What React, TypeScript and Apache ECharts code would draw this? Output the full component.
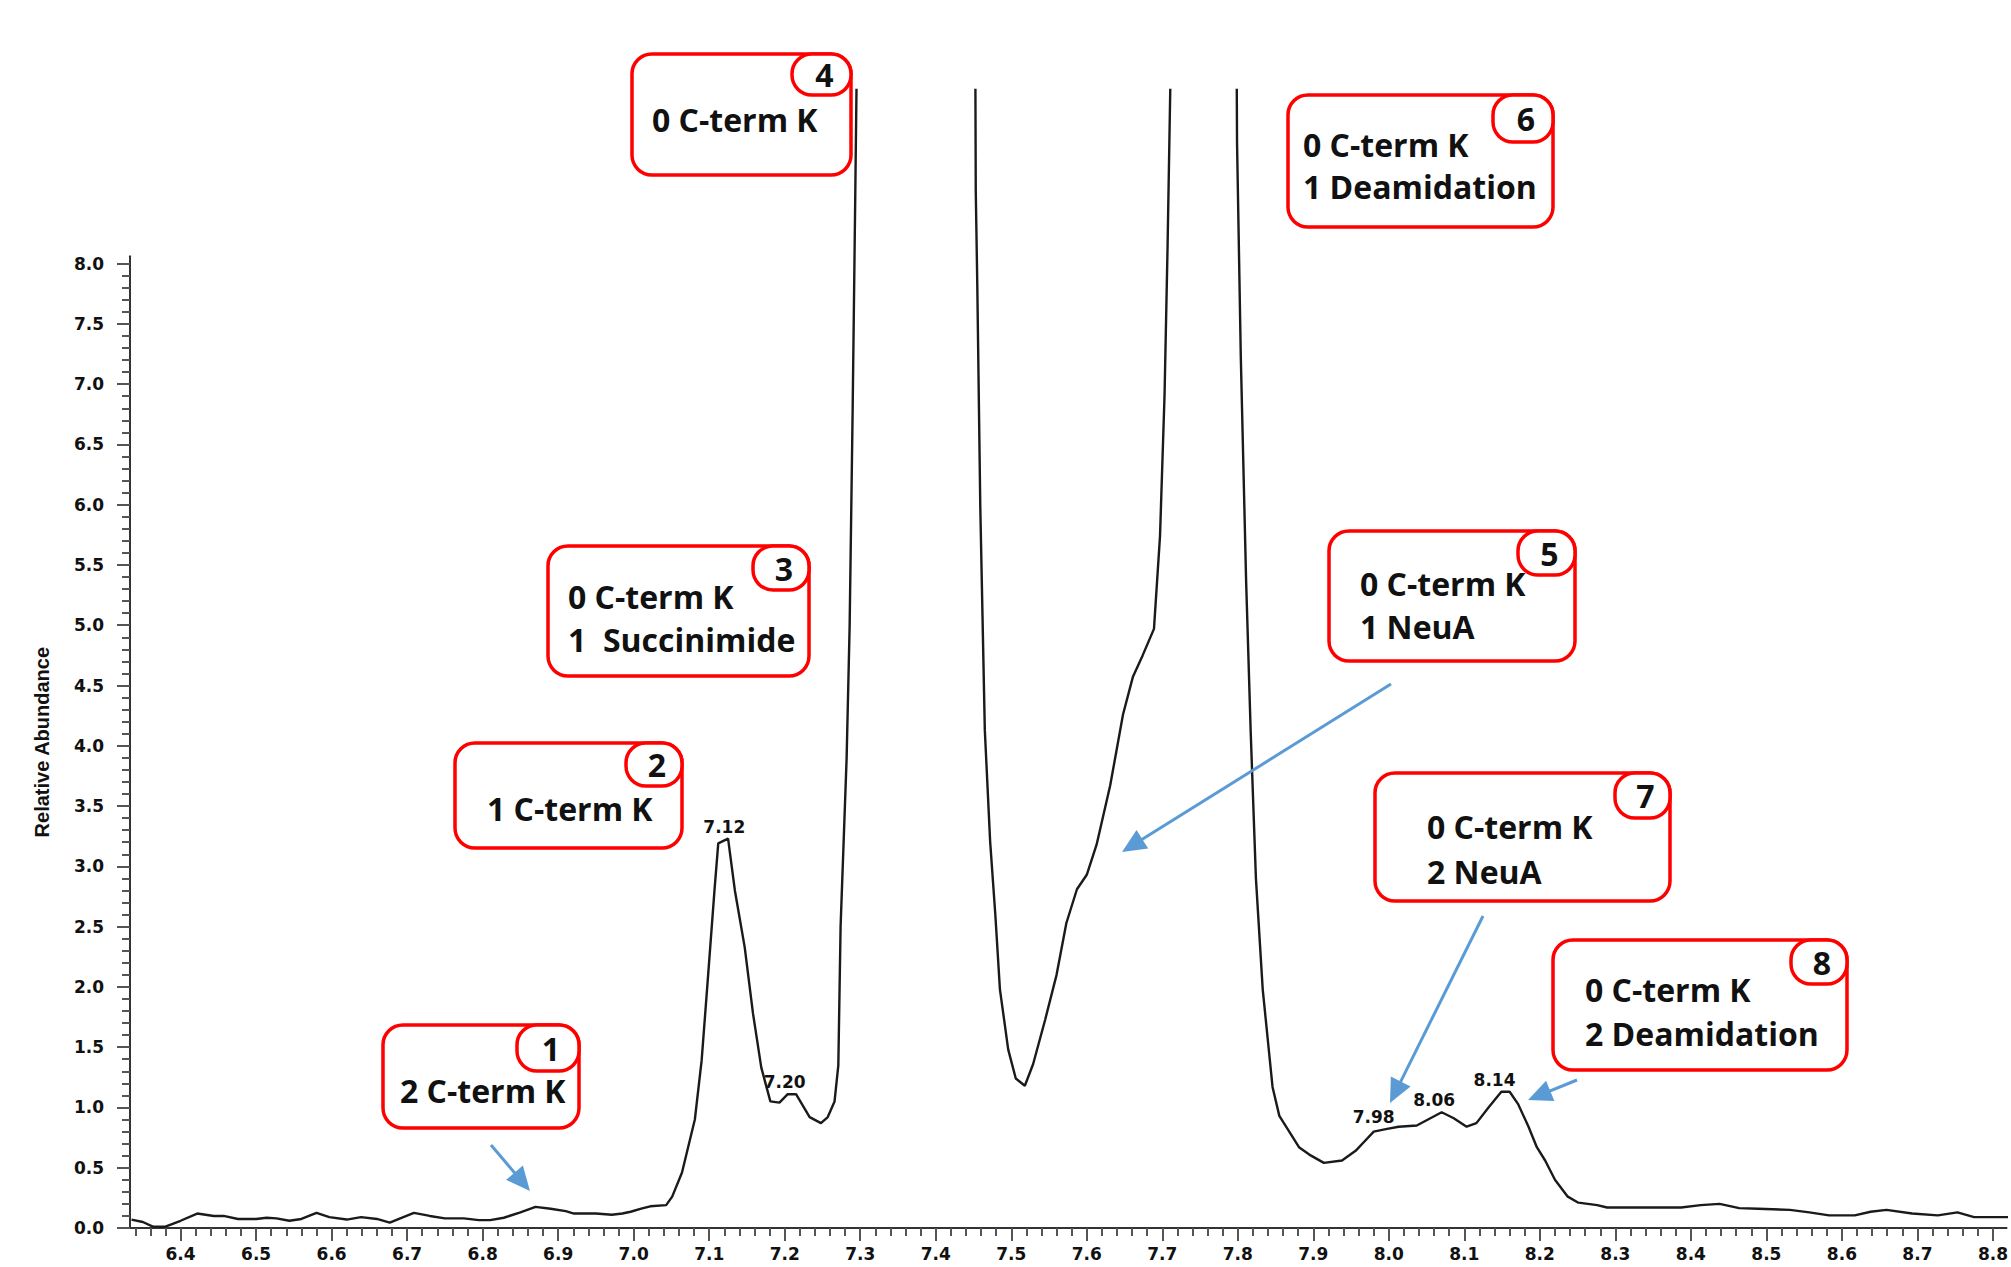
import React, { useEffect, useRef } from "react";
import * as echarts from "echarts";

// ---------- data ----------
const retentionTime = [
  6.335, 6.35, 6.364, 6.379, 6.4, 6.422, 6.444, 6.457, 6.476, 6.5, 6.514, 6.527, 6.544, 6.56, 6.58, 6.597,
  6.62, 6.639, 6.66, 6.677, 6.695, 6.709, 6.73, 6.75, 6.775, 6.795, 6.81, 6.828, 6.85, 6.87, 6.89, 6.91,
  6.921, 6.95, 6.971, 6.985, 6.996, 7.01, 7.022, 7.043, 7.051, 7.064, 7.081, 7.09, 7.098, 7.107, 7.112,
  7.125, 7.134, 7.147, 7.158, 7.169, 7.181, 7.193, 7.204, 7.215, 7.233, 7.248, 7.257, 7.266, 7.271, 7.274,
  7.278, 7.282, 7.286, 7.29, 7.2935, 7.297, 7.3, 7.37, 7.449, 7.453, 7.455, 7.459, 7.465, 7.472, 7.479,
  7.485, 7.496, 7.506, 7.518, 7.529, 7.545, 7.56, 7.573, 7.587, 7.6, 7.613, 7.631, 7.648, 7.661, 7.674,
  7.689, 7.697, 7.703, 7.707, 7.711, 7.716, 7.76, 7.795, 7.799, 7.804, 7.811, 7.817, 7.824, 7.833, 7.846,
  7.855, 7.87, 7.881, 7.897, 7.914, 7.938, 7.956, 7.968, 7.98, 7.996, 8.013, 8.037, 8.055, 8.07, 8.086,
  8.103, 8.116, 8.132, 8.149, 8.16, 8.171, 8.185, 8.196, 8.207, 8.22, 8.237, 8.251, 8.276, 8.289, 8.336,
  8.387, 8.413, 8.438, 8.464, 8.489, 8.531, 8.557, 8.583, 8.617, 8.638, 8.659, 8.693, 8.727, 8.753, 8.775,
  8.821,
];

const relativeAbundance = [
  0.07, 0.05, 0.01, 0.01, 0.06, 0.12, 0.1, 0.1, 0.075, 0.075, 0.085, 0.08, 0.06, 0.075, 0.125, 0.09,
  0.07, 0.09, 0.075, 0.045, 0.09, 0.125, 0.1, 0.08, 0.08, 0.065, 0.065, 0.085, 0.13, 0.175, 0.16, 0.14,
  0.12, 0.12, 0.11, 0.12, 0.135, 0.16, 0.18, 0.19, 0.26, 0.46, 0.9, 1.39, 2.05, 2.8, 3.19,
  3.23, 2.8, 2.33, 1.78, 1.33, 1.05, 1.04, 1.11, 1.11, 0.92, 0.87, 0.92, 1.05, 1.35, 2.5,
  3.2, 3.9, 5.0, 6.8, 8.6, 10.5, 16, 32, 16, 8.6, 7.83, 5.98, 4.13, 3.21, 2.59,
  1.98, 1.48, 1.24, 1.18, 1.36, 1.73, 2.1, 2.53, 2.81, 2.93, 3.18, 3.67, 4.26, 4.57, 4.75,
  4.97, 5.74, 6.91, 8.14, 9.6, 14, 35, 14, 9.0, 7.22, 5.37, 4.13, 2.9, 1.98, 1.17,
  0.93, 0.78, 0.67, 0.6, 0.54, 0.56, 0.64, 0.72, 0.8, 0.82, 0.84, 0.85, 0.91, 0.96, 0.91,
  0.84, 0.87, 1.0, 1.13, 1.13, 1.03, 0.84, 0.67, 0.56, 0.4, 0.26, 0.21, 0.19, 0.17, 0.17,
  0.17, 0.19, 0.2, 0.165, 0.16, 0.15, 0.13, 0.105, 0.105, 0.135, 0.15, 0.12, 0.105, 0.13, 0.09,
  0.09,
];

const peakLabels = ["7.12", "7.20", "7.98", "8.06", "8.14"];

const xTickLabels = [
  "6.4", "6.5", "6.6", "6.7", "6.8", "6.9", "7.0", "7.1", "7.2", "7.3", "7.4", "7.5", "7.6",
  "7.7", "7.8", "7.9", "8.0", "8.1", "8.2", "8.3", "8.4", "8.5", "8.6", "8.7", "8.8",
];
const yTickLabels = [
  "0.0", "0.5", "1.0", "1.5", "2.0", "2.5", "3.0", "3.5", "4.0", "4.5", "5.0", "5.5", "6.0",
  "6.5", "7.0", "7.5", "8.0",
];

const annotationNumbers = ["1", "2", "3", "4", "5", "6", "7", "8"];
const annotationTexts = [
  ["2 C-term K"],
  ["1 C-term K"],
  ["0 C-term K", "1  Succinimide"],
  ["0 C-term K"],
  ["0 C-term K", "1 NeuA"],
  ["0 C-term K", "1 Deamidation"],
  ["0 C-term K", "2 NeuA"],
  ["0 C-term K", "2 Deamidation"],
];

// ---------- layout (pixels) ----------
const W = 2011;
const H = 1267;
const X_MIN = 6.333;
const X_MAX = 8.818;
const Y_VIEW_MAX = 9.44;
const Y_AXIS_TOP = 8.06;
const GRID_LEFT = 130;
const GRID_TOP = 90;
const GRID_BOTTOM = 39;

const boxLayout = [
  { x: 383, y: 1025, w: 196, h: 103, bw: 62, bh: 46, tx: 400, ty: [1090] },
  { x: 455, y: 743, w: 227, h: 105, bw: 56, bh: 43, tx: 487, ty: [808] },
  { x: 548, y: 546, w: 261, h: 130, bw: 56, bh: 44, tx: 568, ty: [596, 639] },
  { x: 632, y: 54, w: 219, h: 121, bw: 59, bh: 41, tx: 652, ty: [119] },
  { x: 1329, y: 531, w: 246, h: 130, bw: 57, bh: 44, tx: 1360, ty: [583, 626] },
  { x: 1288, y: 95, w: 265, h: 132, bw: 60, bh: 47, tx: 1303, ty: [144, 186] },
  { x: 1375, y: 773, w: 295, h: 128, bw: 55, bh: 45, tx: 1427, ty: [826, 871] },
  { x: 1553, y: 940, w: 294, h: 130, bw: 56, bh: 44, tx: 1585, ty: [989, 1033] },
];

const arrowLayout = [
  [491, 1145, 530, 1191],
  [1391, 684, 1122, 852],
  [1483, 916, 1390, 1103],
  [1577, 1080, 1528, 1100],
];

const RED = "#ff0000";
const BLUE = "#5b9bd5";
const BOX_FONT = 'bold 32px "Open Sans", "Noto Sans", sans-serif';
const AXIS_FONT_FAMILY = "DejaVu Sans";

function minorBetween(majors: number[], step: number, from: number, to: number) {
  const out: number[] = [];
  const n = Math.round((to - from) / step);
  for (let i = 0; i <= n; i++) {
    const v = +(from + i * step).toFixed(4);
    if (!majors.some((m) => Math.abs(m - v) < step / 4)) out.push(v);
  }
  return out;
}

function arrowElements(a: number[]) {
  const [x1, y1, x2, y2] = a;
  const dx = x2 - x1;
  const dy = y2 - y1;
  const len = Math.sqrt(dx * dx + dy * dy);
  const ux = dx / len;
  const uy = dy / len;
  const nx = -uy;
  const ny = ux;
  const L = 24;
  const HW = 11;
  const bx = x2 - ux * L;
  const by = y2 - uy * L;
  return [
    {
      type: "line",
      z: 100,
      shape: { x1, y1, x2: bx + ux * 2, y2: by + uy * 2 },
      style: { stroke: BLUE, lineWidth: 3 },
    },
    {
      type: "polygon",
      z: 100,
      shape: {
        points: [
          [x2, y2],
          [bx + nx * HW, by + ny * HW],
          [bx - nx * HW, by - ny * HW],
        ],
      },
      style: { fill: BLUE },
    },
  ];
}

function boxElements(i: number) {
  const b = boxLayout[i];
  const els: any[] = [
    {
      type: "rect",
      z: 100,
      shape: { x: b.x, y: b.y, width: b.w, height: b.h, r: 20 },
      style: { fill: "#ffffff", stroke: RED, lineWidth: 3.5 },
    },
    {
      type: "rect",
      z: 101,
      shape: { x: b.x + b.w - b.bw, y: b.y, width: b.bw, height: b.bh, r: 20 },
      style: { fill: "#ffffff", stroke: RED, lineWidth: 3.5 },
    },
    {
      type: "text",
      z: 102,
      x: b.x + b.w - b.bw / 2 + 3,
      y: b.y + b.bh / 2,
      style: {
        text: annotationNumbers[i],
        font: BOX_FONT,
        fill: "#111111",
        textAlign: "center",
        verticalAlign: "middle",
        textVerticalAlign: "middle",
      },
    },
  ];
  annotationTexts[i].forEach((line, k) => {
    els.push({
      type: "text",
      z: 102,
      x: b.tx,
      y: b.ty[k],
      style: {
        text: line,
        font: BOX_FONT,
        fill: "#111111",
        textAlign: "left",
        verticalAlign: "middle",
        textVerticalAlign: "middle",
      },
    });
  });
  return els;
}

export default function App() {
  const ref = useRef<HTMLDivElement>(null);

  useEffect(() => {
    if (!ref.current) return;
    const chart = echarts.init(ref.current, undefined, { renderer: "svg" });

    const xMajor = xTickLabels.map((s) => parseFloat(s));
    const yMajor = yTickLabels.map((s) => parseFloat(s));
    const xMinor = minorBetween(xMajor, 0.02, 6.34, 8.8);
    const yMinor = minorBetween(yMajor, 0.1, 0, 8.0);

    const axisY0 = H - GRID_BOTTOM;
    const pxPerUnit = (axisY0 - GRID_TOP) / Y_VIEW_MAX;
    const grid1Top = axisY0 - Y_AXIS_TOP * pxPerUnit;

    const seriesData = retentionTime.map((t, i) => [t, relativeAbundance[i]]);

    const peakMarks = peakLabels.map((lbl) => {
      const rt = parseFloat(lbl);
      let best = 0;
      retentionTime.forEach((t, i) => {
        if (Math.abs(t - rt) <= 0.02 && relativeAbundance[i] > best) best = relativeAbundance[i];
      });
      return { name: lbl, coord: [rt, best] };
    });

    const labelStyle = {
      fontFamily: AXIS_FONT_FAMILY,
      fontWeight: "bold" as const,
      fontSize: 17,
      color: "#111111",
    };

    const graphicElements: any[] = [];
    arrowLayout.forEach((a) => graphicElements.push(...arrowElements(a)));
    annotationNumbers.forEach((_, i) => graphicElements.push(...boxElements(i)));

    chart.setOption({
      animation: false,
      backgroundColor: "#ffffff",
      grid: [
        { left: GRID_LEFT, right: 0, top: GRID_TOP, bottom: GRID_BOTTOM },
        { left: GRID_LEFT, right: 0, top: grid1Top, bottom: GRID_BOTTOM },
      ],
      xAxis: [
        {
          gridIndex: 0,
          type: "value",
          min: X_MIN,
          max: X_MAX,
          position: "bottom",
          axisLine: { show: true, onZero: false, lineStyle: { color: "#333333", width: 2 } },
          axisTick: { show: true, customValues: xMajor, length: 13, lineStyle: { color: "#555555", width: 2 } },
          axisLabel: {
            show: true,
            customValues: xMajor,
            formatter: (v: number) => v.toFixed(1),
            margin: 17,
            ...labelStyle,
          },
          splitLine: { show: false },
        },
        {
          gridIndex: 0,
          type: "value",
          min: X_MIN,
          max: X_MAX,
          position: "bottom",
          offset: 0,
          axisLine: { show: false },
          axisTick: { show: true, customValues: xMinor, length: 8, lineStyle: { color: "#555555", width: 2 } },
          axisLabel: { show: false },
          splitLine: { show: false },
        },
        {
          gridIndex: 1,
          type: "value",
          min: X_MIN,
          max: X_MAX,
          show: false,
        },
      ],
      yAxis: [
        {
          gridIndex: 0,
          type: "value",
          min: 0,
          max: Y_VIEW_MAX,
          show: false,
        },
        {
          gridIndex: 1,
          type: "value",
          min: 0,
          max: Y_AXIS_TOP,
          position: "left",
          axisLine: { show: true, onZero: false, lineStyle: { color: "#333333", width: 2 } },
          axisTick: { show: true, customValues: yMajor, length: 13, lineStyle: { color: "#555555", width: 2 } },
          axisLabel: {
            show: true,
            customValues: yMajor,
            formatter: (v: number) => v.toFixed(1),
            margin: 26,
            ...labelStyle,
          },
          splitLine: { show: false },
          name: "Relative Abundance",
          nameLocation: "middle",
          nameRotate: 90,
          nameGap: 78,
          nameTextStyle: {
            fontFamily: "Liberation Sans",
            fontWeight: "bold",
            fontSize: 20,
            color: "#111111",
          },
        },
        {
          gridIndex: 1,
          type: "value",
          min: 0,
          max: Y_AXIS_TOP,
          position: "left",
          offset: 0,
          axisLine: { show: false },
          axisTick: { show: true, customValues: yMinor, length: 8, lineStyle: { color: "#555555", width: 2 } },
          axisLabel: { show: false },
          splitLine: { show: false },
        },
      ],
      series: [
        {
          type: "line",
          xAxisIndex: 0,
          yAxisIndex: 0,
          data: seriesData,
          symbol: "none",
          showSymbol: false,
          clip: true,
          lineStyle: { color: "#1a1a1a", width: 2.4 },
          markPoint: {
            symbol: "rect",
            symbolSize: 1,
            itemStyle: { color: "rgba(0,0,0,0)" },
            label: {
              show: true,
              position: "top",
              distance: 3,
              formatter: "{b}",
              ...labelStyle,
            },
            data: peakMarks,
          },
        },
      ],
      graphic: { elements: graphicElements },
    });

    return () => {
      chart.dispose();
    };
  }, []);

  return (
    <div
      ref={ref}
      style={{ position: "fixed", left: 0, top: 0, width: W + "px", height: H + "px", background: "#ffffff" }}
    />
  );
}
